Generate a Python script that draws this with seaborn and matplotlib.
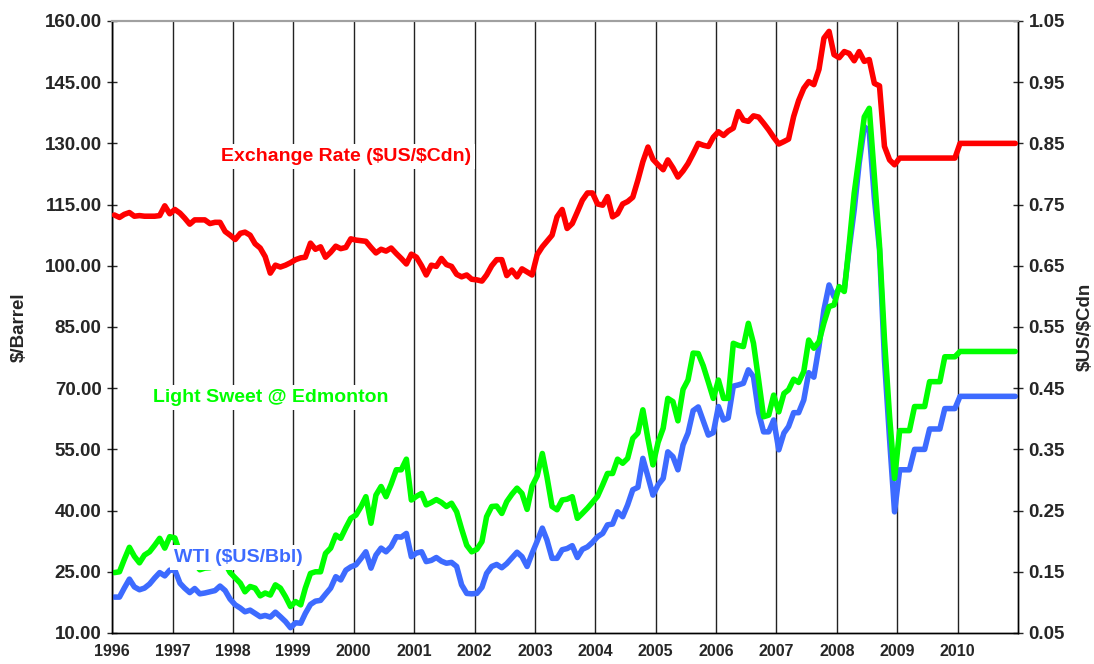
"""
Crude oil prices (WTI and Light Sweet @ Edmonton) with the US/Canadian
exchange rate on a second axis, monthly, 1996 - 2010.
"""

import numpy as np
import pandas as pd
import matplotlib
matplotlib.use("Agg")
import matplotlib.pyplot as plt
import matplotlib.ticker as mticker
import seaborn as sns

BLUE = "#3d6bff"
GREEN = "#00ff00"
RED = "#ff0000"

#=============== data ===============#

wti = [
    18.8, 18.8, 21.0, 23.2, 21.3, 20.6, 21.0, 22.0, 23.5, 24.8, 24.0, 25.4,   # 1996
    25.4, 22.2, 21.0, 19.9, 20.9, 19.6, 19.8, 20.1, 20.4, 21.5, 20.4, 18.3,   # 1997
    16.9, 16.1, 15.2, 15.6, 14.8, 14.0, 14.3, 13.9, 15.1, 14.0, 12.8, 11.3,   # 1998
    12.5, 12.4, 14.8, 17.0, 17.8, 18.0, 19.5, 21.0, 23.8, 23.0, 25.4, 26.2,   # 1999
    26.7, 28.3, 29.9, 25.9, 29.1, 30.8, 29.9, 31.2, 33.6, 33.5, 34.4, 28.7,   # 2000
    29.6, 29.9, 27.5, 27.8, 28.5, 27.6, 27.1, 27.3, 26.3, 21.8, 19.7, 19.6,   # 2001
    19.7, 21.2, 24.6, 26.3, 26.8, 26.0, 27.0, 28.4, 29.8, 28.7, 26.3, 29.5,   # 2002
    32.5, 35.7, 32.8, 28.3, 28.3, 30.4, 30.7, 31.4, 28.5, 30.5, 31.1, 32.2,   # 2003
    33.6, 34.4, 36.5, 36.7, 39.7, 38.5, 41.4, 45.1, 45.7, 52.8, 48.3, 43.8,   # 2004
    46.3, 47.9, 54.4, 53.2, 50.0, 56.1, 59.0, 64.5, 65.4, 62.0, 58.5, 59.1,   # 2005
    65.5, 62.2, 62.7, 70.5, 70.8, 71.2, 74.5, 72.8, 64.0, 59.3, 59.3, 62.2,   # 2006
    54.9, 59.0, 60.6, 64.0, 64.0, 67.1, 73.8, 72.7, 80.2, 89.2, 95.3, 92.4,   # 2007
    94.5, 94.2, 104.0, 113.7, 125.1, 134.1, 133.0, 116.5, 104.0, 77.0, 57.5, 39.7,  # 2008
    50.0, 50.0, 50.0, 55.0, 55.0, 55.0, 60.0, 60.0, 60.0, 65.0, 65.0, 65.0,   # 2009
    68.0, 68.0, 68.0, 68.0, 68.0, 68.0, 68.0, 68.0, 68.0, 68.0, 68.0, 68.0,   # 2010
]

light_sweet = [
    24.8, 25.0, 28.0, 31.0, 28.8, 27.2, 29.1, 29.9, 31.5, 33.2, 30.8, 33.6,   # 1996
    33.3, 29.5, 28.0, 26.5, 27.0, 25.5, 25.9, 26.0, 26.5, 27.6, 27.1, 24.8,   # 1997
    23.5, 22.2, 20.1, 21.4, 21.0, 19.1, 19.8, 19.3, 21.8, 21.0, 18.9, 16.5,   # 1998
    17.7, 16.9, 21.0, 24.6, 25.0, 25.0, 29.5, 30.8, 34.0, 33.2, 35.8, 38.1,   # 1999
    38.9, 41.0, 43.4, 36.9, 43.8, 45.9, 43.4, 46.5, 50.0, 50.0, 52.6, 42.6,   # 2000
    43.5, 44.2, 41.4, 42.0, 42.7, 42.0, 41.0, 41.8, 39.7, 35.5, 31.5, 29.9,   # 2001
    30.5, 32.4, 38.5, 41.0, 41.1, 39.3, 42.2, 44.0, 45.5, 44.2, 40.3, 46.0,   # 2002
    48.5, 54.0, 48.3, 41.0, 40.2, 42.6, 42.8, 43.4, 38.1, 39.3, 40.6, 42.0,   # 2003
    43.5, 46.3, 49.1, 49.1, 52.6, 51.6, 52.8, 57.7, 59.0, 64.7, 57.5, 51.2,   # 2004
    56.7, 60.2, 67.5, 66.7, 62.0, 69.7, 72.0, 78.6, 78.5, 75.5, 71.5, 67.5,   # 2005
    72.0, 67.5, 67.5, 81.0, 80.5, 80.2, 85.9, 81.0, 72.0, 63.0, 63.4, 68.3,   # 2006
    64.2, 68.7, 69.6, 72.2, 71.4, 74.1, 81.8, 79.8, 81.4, 86.0, 90.0, 90.4,   # 2007
    94.9, 93.7, 105.0, 117.8, 126.8, 136.5, 138.6, 122.0, 105.0, 82.0, 63.0, 47.9,  # 2008
    59.6, 59.6, 59.6, 65.5, 65.5, 65.5, 71.6, 71.6, 71.6, 77.7, 77.7, 77.7,   # 2009
    79.0, 79.0, 79.0, 79.0, 79.0, 79.0, 79.0, 79.0, 79.0, 79.0, 79.0, 79.0,   # 2010
]

exchange = [
    0.733, 0.729, 0.734, 0.737, 0.731, 0.732, 0.731, 0.731, 0.731, 0.732, 0.748, 0.735,  # 1996
    0.742, 0.736, 0.728, 0.718, 0.725, 0.725, 0.725, 0.719, 0.721, 0.721, 0.706, 0.700,  # 1997
    0.693, 0.703, 0.705, 0.700, 0.686, 0.679, 0.665, 0.638, 0.651, 0.648, 0.651, 0.655,  # 1998
    0.660, 0.663, 0.664, 0.687, 0.677, 0.681, 0.664, 0.672, 0.682, 0.678, 0.680, 0.694,  # 1999
    0.692, 0.691, 0.690, 0.680, 0.671, 0.677, 0.674, 0.679, 0.670, 0.662, 0.653, 0.669,  # 2000
    0.664, 0.650, 0.635, 0.651, 0.649, 0.662, 0.652, 0.649, 0.636, 0.632, 0.635, 0.628,  # 2001
    0.627, 0.625, 0.635, 0.650, 0.660, 0.660, 0.634, 0.643, 0.632, 0.645, 0.640, 0.635,  # 2002
    0.668, 0.681, 0.690, 0.700, 0.730, 0.742, 0.711, 0.719, 0.738, 0.757, 0.769, 0.769,  # 2003
    0.751, 0.749, 0.763, 0.730, 0.735, 0.751, 0.755, 0.762, 0.790, 0.820, 0.844, 0.824,  # 2004
    0.815, 0.807, 0.823, 0.810, 0.795, 0.805, 0.817, 0.833, 0.850, 0.847, 0.845, 0.860,  # 2005
    0.869, 0.863, 0.870, 0.875, 0.902, 0.888, 0.886, 0.895, 0.893, 0.883, 0.872, 0.860,  # 2006
    0.849, 0.853, 0.857, 0.894, 0.920, 0.940, 0.951, 0.946, 0.971, 1.022, 1.033, 0.995,  # 2007
    0.990, 1.000, 0.997, 0.985, 1.000, 0.984, 0.987, 0.948, 0.944, 0.845, 0.823, 0.815,  # 2008
    0.826, 0.826, 0.826, 0.826, 0.826, 0.826, 0.826, 0.826, 0.826, 0.826, 0.826, 0.826,  # 2009
    0.850, 0.850, 0.850, 0.850, 0.850, 0.850, 0.850, 0.850, 0.850, 0.850, 0.850, 0.850,  # 2010
]

years = list(range(1996, 2011))
price_ticks = [10, 25, 40, 55, 70, 85, 100, 115, 130, 145, 160]
rate_ticks = [0.05, 0.15, 0.25, 0.35, 0.45, 0.55, 0.65, 0.75, 0.85, 0.95, 1.05]

# monthly values, plotted at mid month
months = pd.date_range("1996-01-01", periods=len(wti), freq="MS") + pd.Timedelta(days=14)
df = pd.DataFrame({"month": months, "wti": wti, "sweet": light_sweet, "fx": exchange})

#=============== plot ===============#

sns.set_style("white")
plt.rcParams["font.family"] = ["Liberation Sans", "DejaVu Sans"]
plt.rcParams["font.weight"] = "bold"
plt.rcParams["axes.labelweight"] = "bold"

fig = plt.figure(figsize=(10.94, 6.64), dpi=100)
ax = fig.add_axes([0.1024, 0.0467, 0.8282, 0.9217])
ax2 = ax.twinx()

sns.lineplot(data=df, x="month", y="wti", ax=ax, color=BLUE, lw=4, zorder=3)
sns.lineplot(data=df, x="month", y="sweet", ax=ax, color=GREEN, lw=4, zorder=4)
sns.lineplot(data=df, x="month", y="fx", ax=ax2, color=RED, lw=4, zorder=3)

ax.set_xlim(pd.Timestamp("1996-01-01"), pd.Timestamp("2011-01-01"))
ax.set_ylim(10, 160)
ax2.set_ylim(0.05, 1.05)

ax.set_xticks([pd.Timestamp(f"{y}-01-01") for y in years])
ax.set_xticklabels([str(y) for y in years])
ax.set_yticks(price_ticks)
ax.yaxis.set_major_formatter(mticker.FormatStrFormatter("%.2f"))
ax2.set_yticks(rate_ticks)
ax2.yaxis.set_major_formatter(mticker.FormatStrFormatter("%.2f"))

# vertical year lines only
ax.grid(axis="x", color="#222222", lw=1)
ax.grid(axis="y", visible=False)
ax2.grid(False)

for a in (ax, ax2):
    for side in ("left", "right", "bottom"):
        a.spines[side].set_color("black")
        a.spines[side].set_linewidth(1)
    a.spines["top"].set_color("#a0a0a0")
    a.spines["top"].set_linewidth(1.5)

ax.tick_params(axis="y", direction="inout", length=7, width=1, labelsize=13.5, pad=4)
ax2.tick_params(axis="y", direction="inout", length=7, width=1, labelsize=13.5, pad=4)
ax.tick_params(axis="x", direction="out", length=4, width=1, labelsize=11.5, pad=4)

ax.set_xlabel("")
ax.set_ylabel("$/Barrel", fontsize=13.5)
ax.yaxis.set_label_coords(-0.093, 0.5)
ax2.set_ylabel(r"\$US/\$Cdn", fontsize=13.5)
ax2.yaxis.set_label_coords(1.065, 0.5)

# series labels
box = dict(facecolor="white", edgecolor="none", pad=3)
ax.text(pd.Timestamp("1999-11-17"), 126.7, r"Exchange Rate (\$US/\$Cdn)", color=RED,
        fontsize=14, ha="center", va="center", bbox=box, zorder=10)
ax.text(pd.Timestamp("1998-08-17"), 67.8, "Light Sweet @ Edmonton", color=GREEN,
        fontsize=14, ha="center", va="center", bbox=box, zorder=10)
ax.text(pd.Timestamp("1998-02-03"), 28.6, r"WTI (\$US/Bbl)", color=BLUE,
        fontsize=14, ha="center", va="center", bbox=box, zorder=10)

fig.savefig("out.png", dpi=100)
